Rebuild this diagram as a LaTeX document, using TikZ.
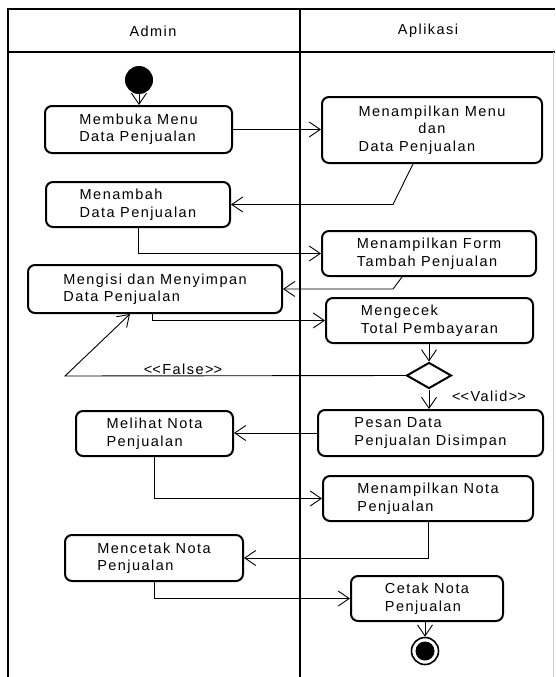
\documentclass[tikz,border=0pt]{standalone}
\usepackage{fontspec}
\setmainfont{Liberation Sans}[LetterSpace=10]
\usetikzlibrary{shapes.geometric,arrows.meta,calc}

\begin{document}
\begin{tikzpicture}[x=1pt,y=-1pt,
  font=\fontsize{14.5}{17.5}\selectfont,
  act/.style={draw, line width=2pt, rounded corners=7pt, fill=white, align=left, inner sep=0pt},
  decision/.style={draw, diamond, line width=2pt, fill=white, inner sep=0pt, minimum width=45pt, minimum height=26pt},
  flow/.style={line width=0.9pt, -{Straight Barb[length=11pt,width=15pt,line width=0.9pt]}},
  lane/.style={line width=2pt},
  guard/.style={inner sep=0pt}]
\useasboundingbox (0,0) rectangle (555,677);
\fill[white] (0,0) rectangle (555,677);

% swimlane frame
\draw[lane] (7.5,677) -- (7.5,9.5) -- (555,9.5);
\draw[lane, line width=2.5pt] (7.5,52) -- (555,52);
\draw[lane, line width=2.8pt] (300,9.5) -- (300,677);
\draw[gray!40, line width=1pt] (553,52) -- (553,677);
\node (hAdmin) at (153,31) {Admin};
\node (hApp) at (428,31) {Aplikasi};

% initial and final states
\node[circle, fill=black, minimum size=28pt, inner sep=0pt] (start) at (139,80) {};
\node[circle, draw, line width=1.6pt, minimum size=27pt, inner sep=0pt] (end) at (425,651) {};
\node[circle, fill=black, minimum size=19pt, inner sep=0pt] (endDot) at (end) {};

% activities
\node[act, minimum width=187pt, minimum height=47pt] (b1) at (138.5,129.5) {Membuka Menu\\Data Penjualan};
\node[act, minimum width=220pt, minimum height=66pt] (b2) at (432,130)
  {\begin{tabular}{@{}l@{}}Menampilkan Menu\\\multicolumn{1}{@{}c@{}}{dan}\\Data Penjualan\end{tabular}};
\node[act, minimum width=184pt, minimum height=45pt] (b3) at (138,204.5) {Menambah\\Data Penjualan};
\node[act, minimum width=214pt, minimum height=45pt] (b4) at (429,253.5) {Menampilkan Form\\Tambah Penjualan};
\node[act, minimum width=254pt, minimum height=48pt] (b5) at (155,289) {Mengisi dan Menyimpan\\Data Penjualan};
\node[act, minimum width=207pt, minimum height=45pt] (b6) at (429.5,320.5) {Mengecek\\Total Pembayaran};
\node[decision] (d) at (429,375.5) {};
\node[act, minimum width=225pt, minimum height=46pt] (b7) at (430.5,433) {Pesan Data\\Penjualan Disimpan};
\node[act, minimum width=157pt, minimum height=45pt] (b8) at (154.5,433.5) {Melihat Nota\\Penjualan};
\node[act, minimum width=210pt, minimum height=45pt] (b9) at (428,498.5) {Menampilkan Nota\\Penjualan};
\node[act, minimum width=178pt, minimum height=46pt] (b10) at (154,558) {Mencetak Nota\\Penjualan};
\node[act, minimum width=152pt, minimum height=45pt] (b11) at (427,598.5) {Cetak Nota\\Penjualan};

% guard labels (kerns keep << and >> from turning into guillemets)
\node[guard] (lFalse) at (183,369) {<\kern0pt<False>\kern0pt>};
\node[guard] (lValid) at (489,396) {<\kern0pt<Valid>\kern0pt>};
\coordinate (fl) at (65,376);

% control flows
\draw[flow] (start.south) -- (start.south |- b1.north);
\draw[flow] (b1.east) -- (b1.east -| b2.west);
\draw[flow] ($(b2.south)+(-19,0)$) -- ($(b3.east -| b2.south)+(-39,0)$) -- (b3.east);
\draw[flow] (b3.south) |- (b4.west);
\draw[flow] ($(b4.south)+(-27,0)$) -- ($(b5.east -| b4.south)+(-36,0)$) -- (b5.east);
\draw[flow] ($(b5.south)+(-3,0)$) |- (b6.west);
\draw[flow] (d.north |- b6.south) -- (d.north);
\draw[flow] (d.west) -- (fl) -- ($(b5.south)+(-25,0)$);
\draw[flow] (d.south) -- (d.south |- b7.north);
\draw[flow] (b7.west) -- (b7.west -| b8.east);
\draw[flow] (b8.south) |- (b9.west);
\draw[flow] (b9.south) |- (b10.east);
\draw[flow] (b10.south) |- (b11.west);
\draw[flow] (end.north |- b11.south) -- (end.north);
\end{tikzpicture}
\end{document}
